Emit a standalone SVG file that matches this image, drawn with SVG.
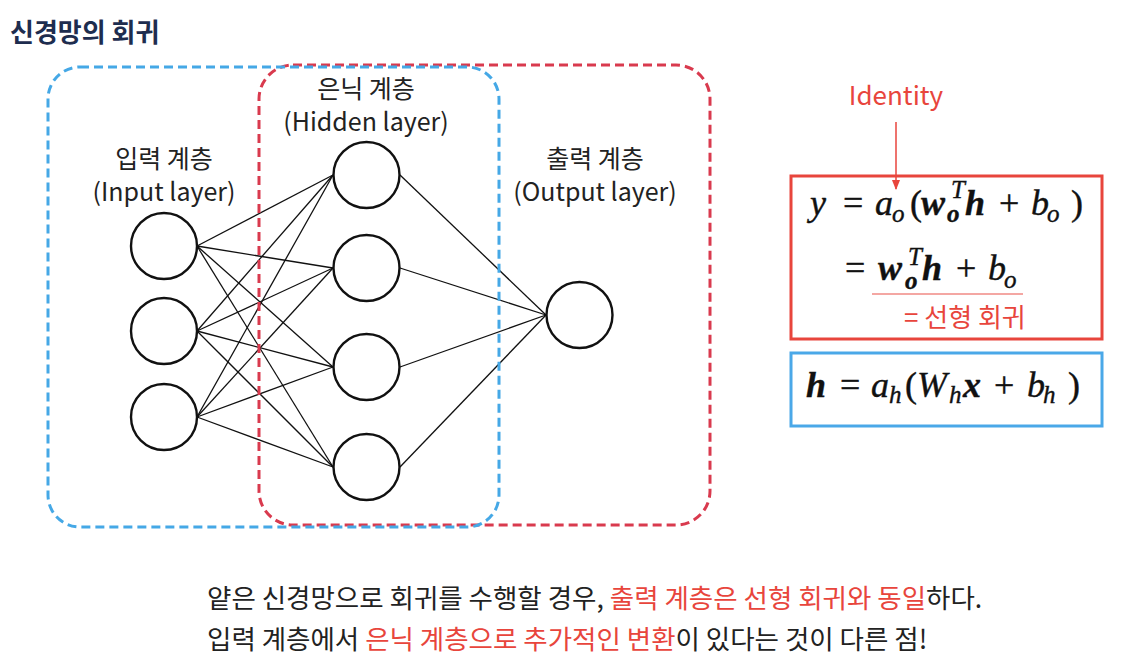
<svg xmlns="http://www.w3.org/2000/svg" width="1127" height="667" viewBox="0 0 1127 667">
<defs>
<style>
.kr{font-family:"Noto Sans CJK KR","Noto Sans",sans-serif;}
.lbl{font-size:25px;fill:#222;text-anchor:middle;}
.node{fill:#fff;stroke:#111;stroke-width:2.4;}
.edge{stroke:#111;stroke-width:1.3;fill:none;}
.m{font-family:"Liberation Serif","Times New Roman",serif;font-size:36px;fill:#111;font-style:italic;stroke:#111;stroke-width:0.4;}
.b{font-weight:bold;}
.s{font-size:25px;}
.up{font-style:normal;}
.red{fill:#e8453c;}
</style>
<marker id="arr" viewBox="0 0 10 10" refX="9" refY="5" markerWidth="7" markerHeight="7" orient="auto">
<path d="M0,1 L10,5 L0,9 z" fill="#e8453c"/>
</marker>
</defs>
<rect width="1127" height="667" fill="#fff"/>
<text class="kr" x="10" y="42" font-size="26" font-weight="bold" fill="#1e2d4f">신경망의 회귀</text>

<g id="connectors">
<line class="edge" x1="197" y1="246" x2="333" y2="175"/>
<line class="edge" x1="197" y1="246" x2="333" y2="268"/>
<line class="edge" x1="197" y1="246" x2="333" y2="367"/>
<line class="edge" x1="197" y1="246" x2="333" y2="467"/>
<line class="edge" x1="197" y1="331" x2="333" y2="175"/>
<line class="edge" x1="197" y1="331" x2="333" y2="268"/>
<line class="edge" x1="197" y1="331" x2="333" y2="367"/>
<line class="edge" x1="197" y1="331" x2="333" y2="467"/>
<line class="edge" x1="197" y1="417" x2="333" y2="175"/>
<line class="edge" x1="197" y1="417" x2="333" y2="268"/>
<line class="edge" x1="197" y1="417" x2="333" y2="367"/>
<line class="edge" x1="197" y1="417" x2="333" y2="467"/>
<line class="edge" x1="400" y1="175" x2="546" y2="315"/>
<line class="edge" x1="400" y1="268" x2="546" y2="315"/>
<line class="edge" x1="400" y1="367" x2="546" y2="315"/>
<line class="edge" x1="400" y1="467" x2="546" y2="315"/>
<line x1="896" y1="122" x2="896" y2="189" stroke="#e8453c" stroke-width="1.5" marker-end="url(#arr)"/>
</g>

<g id="hidden-output-group">
<rect x="259" y="65" width="451" height="460" rx="34" fill="none" stroke="#d93a4e" stroke-width="3" stroke-dasharray="9 5"/>
</g>
<g id="input-hidden-group">
<rect x="48" y="67" width="451" height="460" rx="32" fill="none" stroke="#45a8e6" stroke-width="3" stroke-dasharray="9 5"/>
</g>

<g id="input-layer">
<text class="kr lbl" x="164" y="168">입력 계층</text>
<text class="kr lbl" x="164" y="201">(Input layer)</text>
<circle id="in1" class="node" cx="164" cy="246" r="33"/>
<circle id="in2" class="node" cx="164" cy="331" r="33"/>
<circle id="in3" class="node" cx="164" cy="417" r="33"/>
</g>
<g id="hidden-layer">
<text class="kr lbl" x="366" y="98">은닉 계층</text>
<text class="kr lbl" x="366" y="131">(Hidden layer)</text>
<circle id="h1" class="node" cx="366.5" cy="175" r="33"/>
<circle id="h2" class="node" cx="366.5" cy="268" r="33"/>
<circle id="h3" class="node" cx="366.5" cy="367" r="33"/>
<circle id="h4" class="node" cx="366.5" cy="467" r="33"/>
</g>
<g id="output-layer">
<text class="kr lbl" x="595" y="168">출력 계층</text>
<text class="kr lbl" x="595" y="201">(Output layer)</text>
<circle id="out1" class="node" cx="579.5" cy="315" r="33"/>
</g>

<g id="identity">
<text class="kr red" x="896" y="105" font-size="26" text-anchor="middle">Identity</text>
</g>

<g id="output-formula">
<rect x="791" y="176" width="311" height="163" fill="none" stroke="#e8453c" stroke-width="3"/>
<text class="m" x="810" y="215">y</text>
<text class="m up" x="843" y="215">=</text>
<text class="m" x="875" y="215">a</text>
<text class="m s" x="892" y="222">o</text>
<text class="m up" x="910" y="215">(</text>
<text class="m b" x="921" y="215">w</text>
<text class="m s b" x="947" y="222">o</text>
<text class="m s" x="951" y="198">T</text>
<text class="m b" x="965" y="215">h</text>
<text class="m up" x="999" y="215">+</text>
<text class="m" x="1031" y="215">b</text>
<text class="m s" x="1047" y="222">o</text>
<text class="m up" x="1071" y="215">)</text>

<text class="m up" x="845" y="280">=</text>
<text class="m b" x="878" y="280">w</text>
<text class="m s b" x="905" y="289">o</text>
<text class="m s" x="908" y="265">T</text>
<text class="m b" x="922" y="280">h</text>
<text class="m up" x="956" y="280">+</text>
<text class="m" x="988" y="280">b</text>
<text class="m s" x="1004" y="288">o</text>
<line x1="872" y1="294" x2="1023" y2="294" stroke="#f08a84" stroke-width="1.5"/>
<text class="kr red" x="904" y="327" font-size="26">= 선형 회귀</text>
</g>

<g id="hidden-formula">
<rect x="791" y="353" width="311" height="73" fill="none" stroke="#4aa8e8" stroke-width="3"/>
<text class="m b" x="806" y="397">h</text>
<text class="m up" x="840" y="397">=</text>
<text class="m" x="871" y="397">a</text>
<text class="m s" x="889" y="403">h</text>
<text class="m up" x="905" y="397">(</text>
<text class="m" x="917" y="397">W</text>
<text class="m s" x="949" y="403">h</text>
<text class="m b" x="963" y="397">x</text>
<text class="m up" x="994" y="397">+</text>
<text class="m" x="1027" y="397">b</text>
<text class="m s" x="1043" y="403">h</text>
<text class="m up" x="1068" y="397">)</text>
</g>

<g id="caption">
<text class="kr" x="207" y="608" font-size="26.5" fill="#222">얕은 신경망으로 회귀를 수행할 경우, <tspan class="red">출력 계층은 선형 회귀와 동일</tspan>하다.</text>
<text class="kr" x="207" y="649" font-size="26.5" fill="#222">입력 계층에서 <tspan class="red">은닉 계층으로 추가적인 변환</tspan>이 있다는 것이 다른 점!</text>
</g>
</svg>
